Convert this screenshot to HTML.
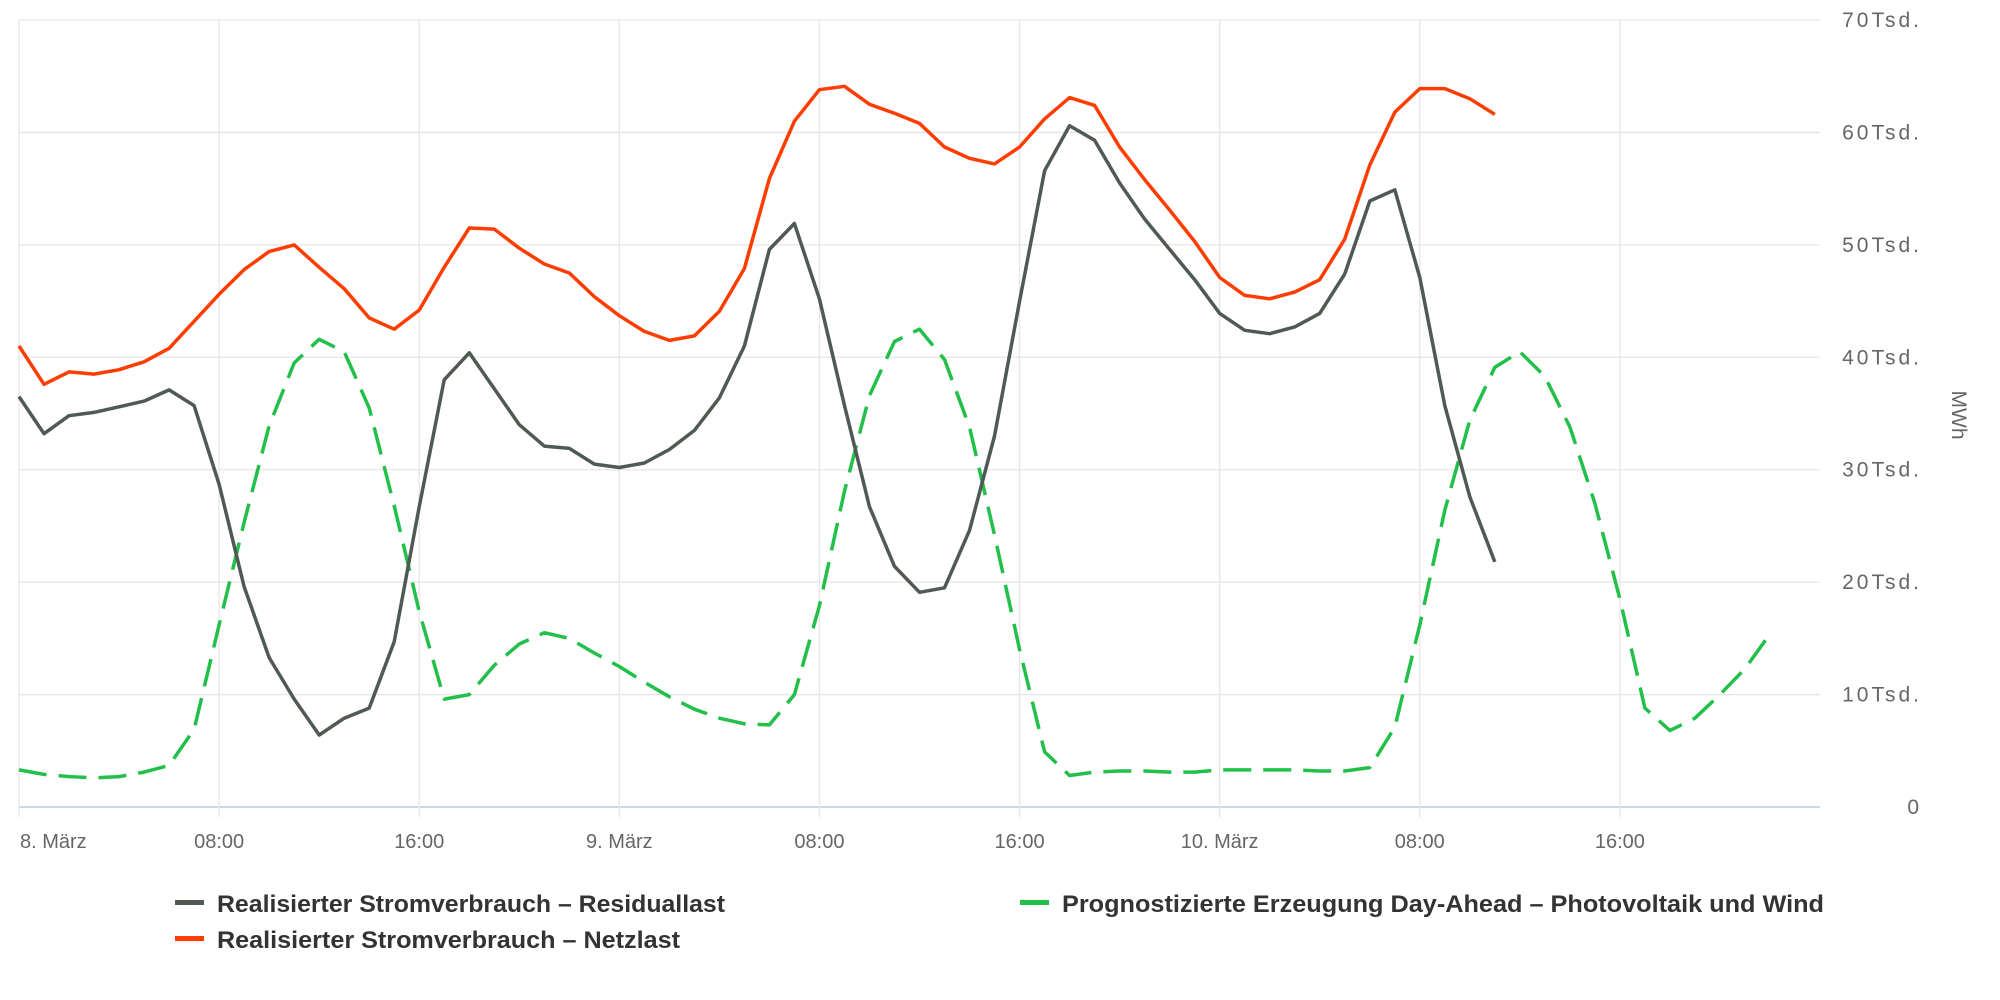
<!DOCTYPE html>
<html><head><meta charset="utf-8"><style>
html,body{margin:0;padding:0;background:#fff;}
svg{display:block;font-family:"Liberation Sans",sans-serif;}
</style></head><body>
<svg id="chart" width="2000" height="1000" viewBox="0 0 2000 1000" xmlns="http://www.w3.org/2000/svg"></svg>
<script>
const netzlast = [41.0,37.6,38.7,38.5,38.9,39.6,40.8,43.2,45.6,47.8,49.4,50.0,48.0,46.1,43.5,42.5,44.2,48.0,51.5,51.4,49.7,48.3,47.5,45.4,43.7,42.3,41.5,41.9,44.1,47.9,55.9,61.0,63.8,64.1,62.5,61.7,60.8,58.7,57.7,57.2,58.7,61.2,63.1,62.4,58.7,55.8,53.1,50.3,47.1,45.5,45.2,45.8,46.9,50.5,57.1,61.8,63.9,63.9,63.0,61.6];
const residuallast = [36.5,33.2,34.8,35.1,35.6,36.1,37.1,35.7,28.7,19.6,13.3,9.6,6.4,7.9,8.8,14.7,26.7,38.0,40.4,37.2,34.0,32.1,31.9,30.5,30.2,30.6,31.8,33.5,36.4,41.0,49.6,51.9,45.2,35.7,26.7,21.4,19.1,19.5,24.6,33.0,45.0,56.6,60.6,59.3,55.5,52.3,49.6,46.9,43.9,42.4,42.1,42.7,43.9,47.4,53.9,54.9,47.1,35.7,27.6,21.8];
const prognose = [3.3,2.9,2.7,2.6,2.7,3.1,3.7,6.9,16.2,25.3,33.9,39.5,41.6,40.5,35.5,26.8,17.4,9.6,10.0,12.6,14.5,15.5,15.0,13.7,12.5,11.1,9.8,8.7,7.9,7.4,7.3,10.0,17.9,28.1,36.6,41.4,42.5,39.8,33.8,24.2,14.0,4.9,2.8,3.1,3.2,3.2,3.1,3.1,3.3,3.3,3.3,3.3,3.2,3.2,3.5,7.1,16.2,26.4,34.4,39.1,40.5,38.3,33.8,27.0,18.5,8.8,6.8,7.9,10.0,12.3,15.4];
const yTicks = [0,10,20,30,40,50,60,70];
const yTickLabels = ["0","10Tsd.","20Tsd.","30Tsd.","40Tsd.","50Tsd.","60Tsd.","70Tsd."];
const xTickHours = [0,8,16,24,32,40,48,56,64];
const xTickLabels = ["8. März","08:00","16:00","9. März","08:00","16:00","10. März","08:00","16:00"];

const NS="http://www.w3.org/2000/svg";
const svg=document.getElementById('chart');
const L=19,R=1820,T=20,B=807,HMAX=72,VMAX=70;
const xs=h=>L+(R-L)*h/HMAX;
const ys=v=>B-(B-T)*v/VMAX;
function mk(tag,attrs,parent){const e=document.createElementNS(NS,tag);for(const k in attrs)e.setAttribute(k,attrs[k]);(parent||svg).appendChild(e);return e;}

yTicks.forEach((v,i)=>{
  const g=mk('line',{x1:L,x2:R,y1:ys(v),y2:ys(v),stroke:v===0?'#ccd6eb':'#e6e6e6','stroke-width':v===0?2:1.3});
  
  
  const t=mk('text',{x:1922,y:ys(v)+7,'text-anchor':'end','font-size':21,fill:'#666','letter-spacing':'3'});
  t.textContent=yTickLabels[i];
  
  
});
xTickHours.forEach((h,i)=>{
  const g=mk('line',{x1:xs(h),x2:xs(h),y1:T,y2:B+10,stroke:'#e6e6e6','stroke-width':1.3});
  
  
  const t=mk('text',{x:i===0?xs(h)+1:xs(h),y:848,'text-anchor':i===0?'start':'middle','font-size':20,fill:'#666'});
  t.textContent=xTickLabels[i];
  
  
});
const ax=mk('text',{x:1952,y:415,'text-anchor':'middle','font-size':21,fill:'#666',transform:'rotate(90 1952 415)'});
ax.textContent='MWh';



function series(arr,color,dash,name){
  const d=arr.map((v,i)=>(i?'L':'M')+xs(i).toFixed(1)+','+ys(v).toFixed(1)).join(' ');
  const p=mk('path',{d:d,fill:'none',stroke:color,'stroke-width':3.5,'stroke-linejoin':'round','stroke-linecap':'butt'});
  if(dash)p.setAttribute('stroke-dasharray',dash);
  
  
}
series(prognose,'#22c04a','28,12','series-prognose-pv-wind');
series(residuallast,'#4e5a52',null,'series-residuallast');
series(netzlast,'#ff3d00',null,'series-netzlast');

function legend(x,y,color,label,name,w){
  const g=mk('g',{});
  
  
  mk('rect',{x:x,y:y-4,width:29,height:5,fill:color},g);
  const t=mk('text',{x:x+42,y:y+8,'font-size':24,'font-weight':'bold',fill:'#333',textLength:w,lengthAdjust:'spacingAndGlyphs'},g);
  t.textContent=label;
}
legend(175,904,'#4e5a52','Realisierter Stromverbrauch – Residuallast','legend-entry-residuallast',508);
legend(1020,904,'#22c04a','Prognostizierte Erzeugung Day-Ahead – Photovoltaik und Wind','legend-entry-prognose',762);
legend(175,940,'#ff3d00','Realisierter Stromverbrauch – Netzlast','legend-entry-netzlast',463);
</script>
</body></html>
